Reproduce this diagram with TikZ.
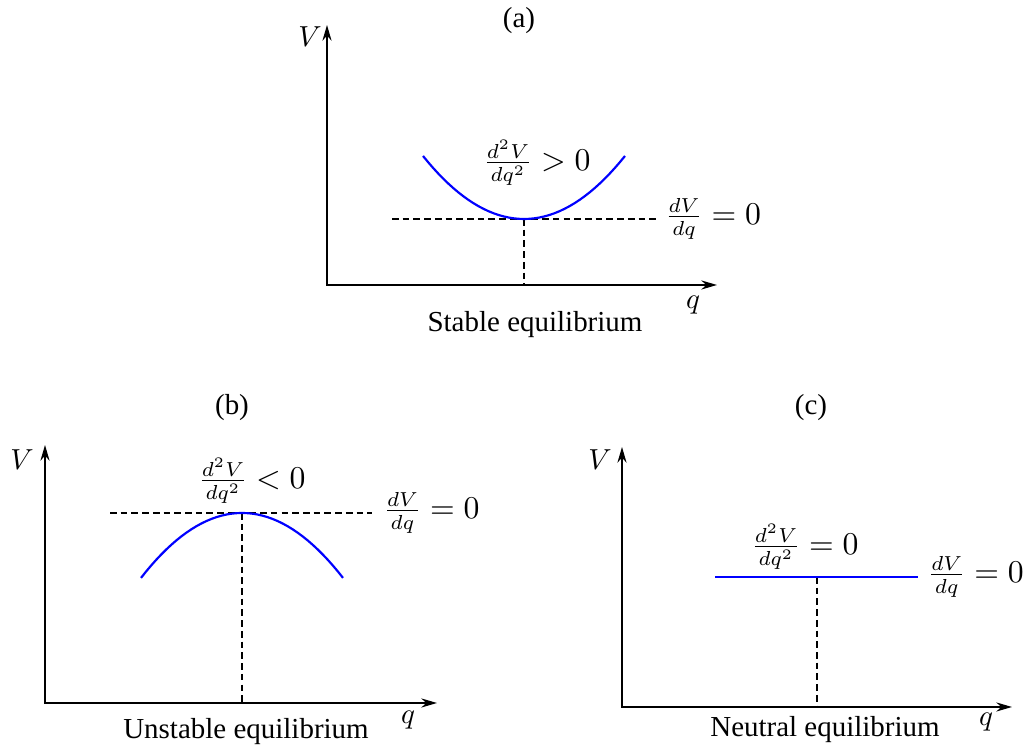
\documentclass[tikz,border=0pt]{standalone}
\usepackage{fontspec}
\setmainfont{Liberation Serif}
\usetikzlibrary{arrows.meta, positioning}
\tikzset{
  % Pair of axes, one tip at each free end.
  axis/.style={
    {Stealth[length=1.9mm, width=1.1mm]}-{Stealth[length=1.9mm, width=1.1mm]},
    line width=0.7pt,
  },
  % Potential curve.
  curve/.style={draw=blue, line width=0.75pt},
  % Dashed guide lines.
  guide/.style={dash pattern=on 2.3pt off 1.4pt, line width=0.6pt},
  % Texts.
  tag/.style={font=\normalsize, inner sep=0pt},
  mathlabel/.style={inner sep=1pt, font=\fontsize{10.6pt}{13pt}\selectfont},
}

\begin{document}
\begin{tikzpicture}[x=0.1213mm, y=0.1213mm]
  \useasboundingbox (0,0) rectangle (1023,749);

  % (a) Stable equilibrium.
  \coordinate (oa) at (327,464);
  \coordinate (ta) at (327,724);
  \coordinate (ra) at (717,464);
  \draw[axis] (ta) -- (oa) -- (ra);
  \node[tag] (va) at (310,712) {$V$};
  \node[tag] (qa) at (693,444) {$q$};
  \node[tag] (capa) at (519,728) {(a)};
  \node[tag] (namea) at (535,424) {Stable equilibrium};
  \coordinate (mina) at (524,530);
  \coordinate (hla) at (392,530);
  \coordinate (hra) at (660,530);
  \coordinate (fa) at (524,464);
  \draw[guide] (hla) -- (hra);
  \draw[guide] (mina) -- (fa);
  \draw[curve] plot[domain=-101:101, samples=41] ({524+\x}, {530+0.00618*\x*\x});
  \node[mathlabel] (seca) at (537,586) {$\frac{d^2V}{dq^2} > 0$};
  \node[mathlabel, right=0.6pt of hra] (firsta) {$\frac{dV}{dq} = 0$};

  % (b) Unstable equilibrium.
  \coordinate (ob) at (45,46);
  \coordinate (tb) at (45,304);
  \coordinate (rb) at (437,46);
  \draw[axis] (tb) -- (ob) -- (rb);
  \node[tag] (vb) at (22,289) {$V$};
  \node[tag] (qb) at (408,29) {$q$};
  \node[tag] (capb) at (232,341) {(b)};
  \node[tag] (nameb) at (246,17) {Unstable equilibrium};
  \coordinate (maxb) at (242,236);
  \coordinate (hlb) at (110,236);
  \coordinate (hrb) at (372,236);
  \coordinate (fb) at (242,46);
  \draw[guide] (hlb) -- (hrb);
  \draw[guide] (maxb) -- (fb);
  \draw[curve] plot[domain=-101:101, samples=41] ({242+\x}, {236-0.00637*\x*\x});
  \node[mathlabel] (secb) at (252,268) {$\frac{d^2V}{dq^2} < 0$};
  \node[mathlabel, right=2.8pt of hrb] (firstb) {$\frac{dV}{dq} = 0$};

  % (c) Neutral equilibrium.
  \coordinate (oc) at (622,42);
  \coordinate (tc) at (622,302);
  \coordinate (rc) at (1012,42);
  \draw[axis] (tc) -- (oc) -- (rc);
  \node[tag] (vc) at (600,289) {$V$};
  \node[tag] (qc) at (986,27) {$q$};
  \node[tag] (capc) at (811,341) {(c)};
  \node[tag] (namec) at (825,19) {Neutral equilibrium};
  \coordinate (hlc) at (715,172);
  \coordinate (hrc) at (918,172);
  \coordinate (midc) at (817,172);
  \coordinate (fc) at (817,42);
  \draw[guide] (midc) -- (fc);
  \draw[curve] (hlc) -- (hrc);
  \node[mathlabel] (secc) at (805,202) {$\frac{d^2V}{dq^2} = 0$};
  \node[mathlabel, right=2.2pt of hrc] (firstc) {$\frac{dV}{dq} = 0$};
\end{tikzpicture}
\end{document}
